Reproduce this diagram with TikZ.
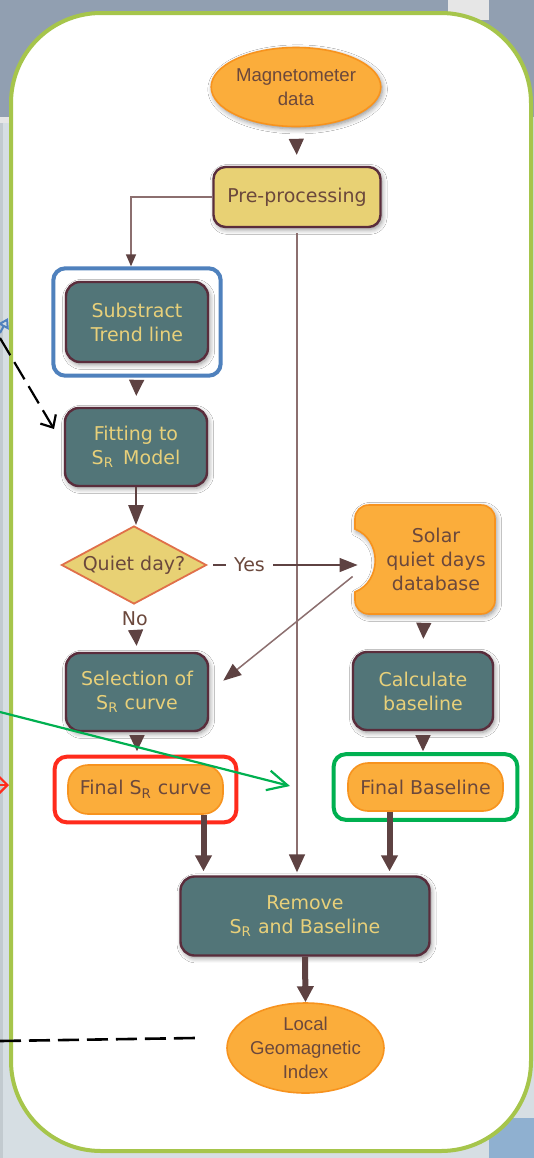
\documentclass[tikz,border=0pt]{standalone}
\usepackage{fontspec}
\setmainfont{DejaVu Sans}
\newfontfamily\arialfont{Liberation Sans}
\usetikzlibrary{arrows.meta, shapes.geometric, shadows.blur, fit}

\definecolor{bgslate}{HTML}{919FB1}
\definecolor{bglight}{HTML}{D6DEE3}
\definecolor{bgstrip}{HTML}{C2CACF}
\definecolor{bggray}{HTML}{E6E6E6}
\definecolor{bgblue}{HTML}{8FB0D0}
\definecolor{framegreen}{HTML}{A6C54B}
\definecolor{procteal}{HTML}{527578}
\definecolor{boxedge}{HTML}{5A2D3C}
\definecolor{proctext}{HTML}{E8D07A}
\definecolor{tanfill}{HTML}{E8D174}
\definecolor{orangefill}{HTML}{FBAD3B}
\definecolor{orangeedge}{HTML}{F7931E}
\definecolor{browntext}{HTML}{6B483C}
\definecolor{tipbrown}{HTML}{5E4242}
\definecolor{linebrown}{HTML}{8C6F6F}
\definecolor{diamedge}{HTML}{E0704A}
\definecolor{hlblue}{HTML}{4F81BD}
\definecolor{hlred}{HTML}{FF2B1C}
\definecolor{hlgreen}{HTML}{00B050}

\begin{document}
\begin{tikzpicture}[x=0.5pt, y=-0.5pt,
  every node/.style={font=\fontsize{9.5}{12}\selectfont, align=center},
  softshadow/.style={blur shadow={shadow xshift=0.8pt, shadow yshift=-1.2pt,
    shadow blur radius=2.5pt, shadow blur steps=6, shadow opacity=45}},
  procbox/.style={draw=boxedge, line width=1.2pt, fill=procteal, text=proctext,
    rounded corners=7pt, minimum width=71pt, minimum height=39pt, inner sep=2pt, softshadow},
  prepbox/.style={procbox, fill=tanfill, text=browntext, minimum width=83.5pt,
    minimum height=30pt, rounded corners=6pt},
  finalbox/.style={draw=orangeedge, line width=0.8pt, fill=orangefill, text=browntext,
    rounded corners=10pt, minimum width=77.5pt, minimum height=24.5pt, inner sep=2pt},
  terminal/.style={ellipse, draw=orangeedge, line width=0.8pt, fill=orangefill,
    text=browntext, inner sep=0pt, font=\arialfont\fontsize{9.3}{12}\selectfont},
  decision/.style={diamond, aspect=1.86, draw=diamedge, line width=0.9pt, fill=tanfill,
    text=browntext, inner sep=0pt, minimum width=72.5pt, minimum height=39pt},
  hlbox/.style={line width=2pt, rounded corners=6pt},
  gaptip/.style={draw=tipbrown, line width=0.6pt, -{Triangle[width=7.5pt, length=8pt]}},
  thinarrow/.style={draw=linebrown, line width=0.75pt,
    -{Triangle[width=7pt, length=9pt, color=tipbrown]}},
  thickarrow/.style={draw=tipbrown, line width=3pt, -{Triangle[width=8pt, length=8pt]}},
  pointer/.style={line width=1.1pt, -{Straight Barb[length=5pt, width=9pt]}},
]
  \useasboundingbox (0,0) rectangle (534,1158);

  % screenshot background
  \fill[bglight] (0,0) rectangle (534,1158);
  \fill[bgslate] (0,0) rectangle (534,117);
  \fill[bggray] (0,117) rectangle (12,123);
  \fill[bggray] (448,0) rectangle (489,20);
  \fill[bgstrip] (0,123) rectangle (3,1158);
  \fill[bgblue] (489,1118) rectangle (534,1158);

  % frame
  \draw[draw=framegreen, line width=2pt, fill=white, rounded corners=45pt]
    (11,13) rectangle (531,1151);

  % Nodes
  \node[terminal, softshadow, minimum width=71.5pt, minimum height=39.5pt] (mag) at (296,87)
    {Magnetometer\\data};
  \node[prepbox] (pre) at (297,197) {Pre-processing};
  \node[procbox, minimum height=40pt] (sub) at (137,322) {Substract\\Trend line};
  \node[procbox] (fit) at (136,447) {Fitting to\\S\textsubscript{R}\, Model};
  \node[decision] (quiet) at (134,565) {Quiet day?};
  \node[procbox] (sel) at (137,692) {Selection of\\S\textsubscript{R} curve};

  % database shape
  \node[minimum width=71pt, minimum height=54.5pt, inner sep=0pt] (db) at (424,559.5) {};
  \path[draw=orangeedge, line width=0.8pt, fill=orangefill, softshadow]
    (369,505) -- (481,505) .. controls (489,505) and (495,511) .. (495,519)
    -- (495,600) .. controls (495,608) and (489,614) .. (481,614)
    -- (369,614) .. controls (361,614) and (355,608) .. (355,600)
    -- (355,592) .. controls (382,581) and (382,540) .. (355,529)
    -- (355,519) .. controls (355,511) and (361,505) .. (369,505) -- cycle;
  \node[text=browntext] (dblabel) at ([xshift=6pt]db.center) {Solar\\quiet days\\database};

  \node[procbox, minimum width=70pt] (calc) at (423,691) {Calculate\\baseline};
  \node[finalbox] (finsr) at (145.5,789.5) {Final S\textsubscript{R} curve};
  \node[finalbox, minimum height=24pt] (finbl) at (425.5,787) {Final Baseline};
  \node[procbox, minimum width=124.5pt, minimum height=39.5pt] (remove) at (305,916)
    {Remove\\S\textsubscript{R} and Baseline};
  \node[terminal, minimum width=78.5pt, minimum height=45pt] (local) at (305.5,1048)
    {Local\\Geomagnetic\\Index};

  % highlight boxes
  \node[hlbox, draw=hlblue, fit=(sub), inner xsep=5.75pt, inner ysep=6.25pt] (hlsub) {};
  \node[hlbox, draw=hlred, fit=(finsr), inner xsep=6.25pt, inner ysep=3.75pt] (hlfin) {};
  \node[hlbox, draw=hlgreen, fit=(finbl), inner xsep=6.75pt, inner ysep=4pt] (hlbase) {};

  % Connectors
  \draw[gaptip, shorten <=6.25pt, shorten >=5.5pt] (mag.south) -- (pre.north);
  \draw[thinarrow, -{Triangle[width=5pt, length=6pt, color=tipbrown]}]
    (pre.west) -| ([xshift=-3pt]hlsub.north);
  \draw[thinarrow, shorten <=2.5pt, shorten >=1.5pt, -{Triangle[width=8pt, length=9pt, color=tipbrown]}]
    (pre.south) -- (pre.south |- remove.north);
  \draw[gaptip, shorten <=9pt, shorten >=5.5pt] (sub.south) -- (fit.north);
  \draw[draw=tipbrown, line width=1.3pt, -{Triangle[width=7.5pt, length=10pt]}]
    (fit.south) -- (fit.south |- quiet.north);
  \draw[draw=tipbrown, line width=0.6pt, shorten <=3pt, shorten >=-2.5pt,
    -{Triangle[width=7pt, length=9pt]}]
    (quiet.east) -- node[pos=0.29, fill=white, text=browntext, inner xsep=4pt] (yeslabel) {Yes}
    (quiet.east -| db.west);
  \draw[gaptip, shorten <=13.5pt, shorten >=3pt]
    (quiet.south) -- node[pos=0.3, text=browntext] (nolabel) {No} (sel.north);
  \draw[thinarrow, shorten >=9pt] ([yshift=-8.5pt]db.west) -- (sel.east);
  \draw[gaptip, shorten <=5pt, shorten >=6pt] (db.south) -- (calc.north);
  \draw[gaptip, shorten <=3pt, shorten >=6.5pt] (sel.south) -- (sel.south |- finsr.north);
  \draw[gaptip, shorten <=3.5pt, shorten >=5.5pt] (calc.south) -- (calc.south |- finbl.north);
  \draw[thickarrow, shorten >=2pt] ([xshift=29pt]finsr.south)
    -- ([xshift=29pt]finsr.south |- remove.north);
  \draw[thickarrow, shorten >=2pt] ([xshift=-18pt]finbl.south)
    -- ([xshift=-18pt]finbl.south |- remove.north);
  \draw[thickarrow] (remove.south) -- (local.north);

  % pointers coming from outside
  \coordinate (bluefrom) at (0,333);
  \coordinate (blueto) at (8,318);
  \draw[hlblue, line width=1pt, -{Triangle[open, width=6pt, length=5pt]}] (bluefrom) -- (blueto);
  \coordinate (dashfrom) at (0,338);
  \coordinate (dashto) at (54,429);
  \draw[pointer, black, dash pattern=on 10pt off 4pt] (dashfrom) -- (dashto);
  \coordinate (greenfrom) at (0,712);
  \coordinate (greento) at (290,786);
  \draw[pointer, hlgreen, -{Straight Barb[length=10pt, width=10pt]}] (greenfrom) -- (greento);
  \coordinate (redfrom) at (-4,785);
  \coordinate (redto) at (9,785);
  \draw[pointer, hlred, -{Straight Barb[length=4pt, width=8pt]}] (redfrom) -- (redto);
  \coordinate (lowfrom) at (0,1041);
  \coordinate (lowto) at (195,1038);
  \draw[black, line width=1.3pt, dash pattern=on 10.5pt off 4pt] (lowfrom) -- (lowto);
\end{tikzpicture}
\end{document}
